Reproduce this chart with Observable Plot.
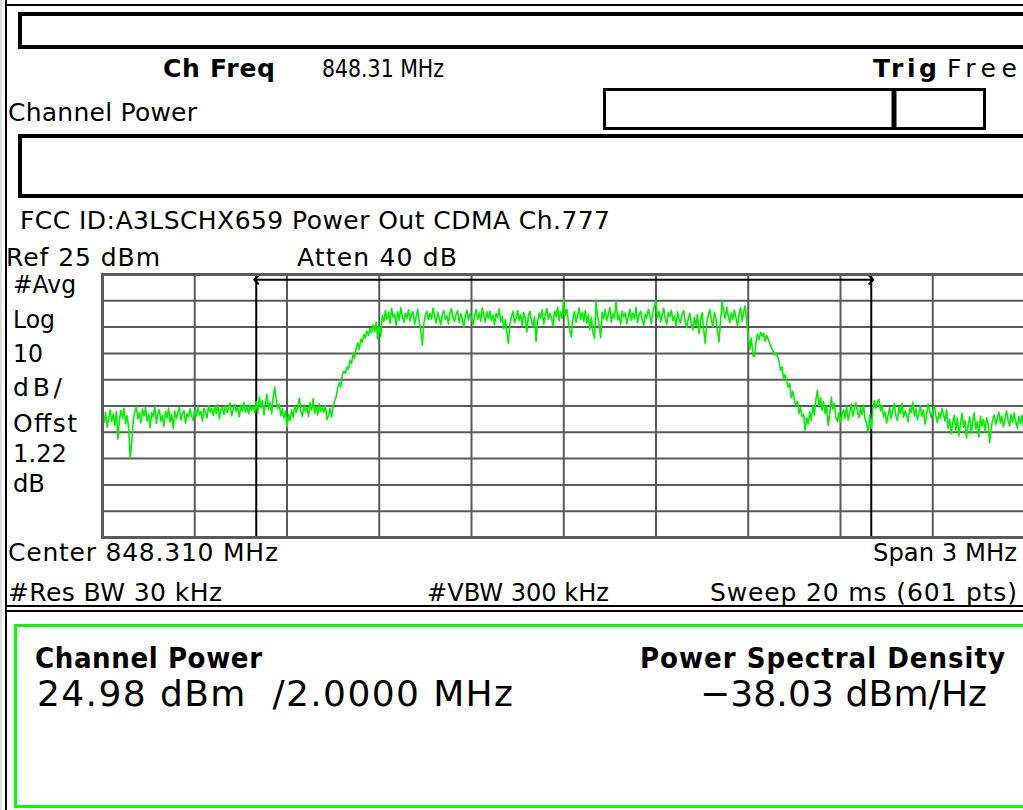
<!DOCTYPE html>
<html>
<head>
<meta charset="utf-8">
<script src="https://cdn.jsdelivr.net/npm/d3@7"></script>
<script src="https://cdn.jsdelivr.net/npm/@observablehq/plot@0.6"></script>
<style>
  html, body { margin: 0; padding: 0; background: #fff; overflow: hidden; }
  #screen { position: relative; width: 1023px; height: 810px; overflow: hidden; background: #fff; }
  #screen svg { position: absolute; left: 0; top: 0; max-width: none; }
  .t { font-family: "DejaVu Sans", sans-serif; fill: #000; }
  .c { font-family: "DejaVu Sans Condensed", "DejaVu Sans", sans-serif; font-stretch: condensed; }
</style>
</head>
<body>
<div id="screen"></div>
<script>
// ---- Instrument settings (as shown on screen) ----
const centerMHz = 848.31;
const spanMHz = 3;
const sweepPoints = 601;
const refLevelDbm = 25;
const dbPerDiv = 10;
const gridDivisions = 10;

// Grid tick positions (MHz and dBm)
const gridFreqs = [846.81, 847.11, 847.41, 847.71, 848.01, 848.31, 848.61, 848.91, 849.21, 849.51, 849.81];
const gridLevels = [25, 15, 5, -5, -15, -25, -35, -45, -55, -65, -75];
// Channel integration bandwidth edges (2 MHz)
const channelEdges = [847.31, 849.31];
const markerLevel = 23;

const traceLeftNoise = [
  -28.5,-31.2,-27.4,-33.0,-29.8,-26.5,-30.9,-28.0,-32.4,-27.1,-37.5,-30.2,-26.8,-29.6,-25.9,-31.8,-28.7,-33.5,-44.8,-39.0,
  -30.5,-27.2,-25.4,-29.9,-27.6,-31.4,-26.2,-28.8,-25.6,-30.7,-28.1,-33.2,-27.5,-29.0,-25.3,-31.6,-27.9,-26.4,-30.8,-28.5,
  -32.9,-27.0,-29.4,-25.8,-31.1,-28.3,-33.6,-26.9,-29.7,-27.4,-25.6,-30.3,-28.0,-26.7,-31.5,-27.8,-29.2,-26.1,-28.9,-30.5,
  -26.6,-29.0,-25.2,-28.4,-27.0,-30.8,-25.9,-27.7,-29.5,-24.8,-27.3,-26.0,-28.6,-25.1,-27.9,-24.5,-29.8,-26.3,-25.6,-28.2,
  -24.9,-27.5,-25.8,-23.9,-28.7,-26.2,-24.4,-27.0,-25.5,-29.1,-24.6,-26.8,-23.8,-27.4,-25.2,-28.0,-24.7,-26.5,-25.0,-27.6
];
const traceLeftShoulder = [
  -23.2,-27.8,-21.5,-25.6,-22.9,-28.4,-24.1,-20.6,-26.3,-23.5,-27.9,-21.8,-17.8,-22.4,-26.0,-24.3,-28.8,-26.1,-29.5,-27.0,
  -33.0,-28.2,-30.6,-26.4,-29.3,-24.9,-27.5,-25.2,-22.0,-26.8,-28.9,-24.6,-27.1,-25.5,-29.0,-23.8,-26.6,-22.3,-27.8,-25.1,
  -28.4,-24.2,-26.9,-25.7,-27.3,-24.8,-30.2,-28.6,-26.0,-29.1,-25.3,-23.0
];
const traceRise = [
  -21.5,-18.0,-16.2,-17.5,-13.0,-11.8,-12.5,-10.2,-11.0,-7.5,
  -8.8,-5.2,-6.8,-3.1,-1.0,-3.5,0.5,-0.8,2.2,0.9,
  3.5,1.8,4.6,2.9,5.8,3.2,6.9,0.5,5.2,1.5
];
const tracePlateau = [
  9.5,7.2,11.3,8.0,10.6,6.4,12.1,8.8,9.9,5.7,10.8,7.6,12.4,9.1,6.8,10.2,8.4,11.6,7.3,9.7,
  10.9,6.1,8.9,11.8,7.4,4.2,-1.8,6.5,9.6,11.0,7.8,10.3,8.1,12.2,9.0,6.6,10.7,8.5,5.9,9.8,
  11.4,7.9,9.3,6.2,10.5,12.0,8.6,7.1,9.9,11.2,6.8,10.1,8.2,4.9,9.4,11.5,7.7,10.0,8.8,6.0,
  9.2,11.7,8.0,10.4,7.2,12.3,9.5,6.9,10.8,8.3,11.1,7.5,9.6,5.8,10.2,8.7,11.9,7.0,9.1,4.3,
  7.8,3.0,-1.2,6.4,9.0,10.9,6.7,8.5,11.3,7.6,9.8,5.5,10.6,8.1,3.2,9.4,11.0,7.3,5.1,8.9,
  -0.5,7.0,10.3,8.4,11.6,6.2,9.5,12.1,7.9,10.2,8.6,5.4,11.0,9.0,12.6,7.4,10.7,8.3,15.8,9.6,
  11.8,7.1,3.5,1.3,8.8,10.9,6.9,9.4,12.3,8.0,10.5,7.2,11.4,6.5,9.8,4.0,8.7,2.8,0.7,14.8,
  9.2,6.0,1.0,10.6,8.3,11.7,7.5,9.9,12.4,6.8,10.1,8.4,14.9,7.7,9.6,5.9,11.2,8.8,10.4,6.3,
  9.0,11.9,7.6,10.3,8.2,12.5,6.7,9.5,11.1,7.9,5.6,10.0,8.5,11.8,9.3,6.4,10.7,13.2,15.0,8.6,
  10.9,7.0,9.7,12.1,8.1,6.2,10.5,8.9,11.4,7.4,9.2,5.3,10.8,8.0,6.6,9.9,11.3,7.1,4.8,8.4,
  10.2,6.0,3.9,8.7,5.5,9.8,2.6,7.2,10.4,4.1,-1.3,6.9,9.5,11.7,7.8,5.0,10.6,8.2,3.4,-0.6,
  7.5,14.8,11.0,8.3,12.6,9.1,6.7,10.4,7.9,11.5,8.6,5.4,9.7,12.3,7.2,10.8,13.1,6.9
];
const traceFall = [
  2.0,-3.5,0.8,-5.8,-6.2,-1.0,2.4,0.2,3.1,1.5,
  2.6,-0.4,1.8,0.3,-1.2,-2.8,-3.9,-5.6,-4.7,-6.2,
  -8.0,-11.5,-10.2,-14.6,-13.1,-15.8,-17.9,-16.5,-21.8,-19.4,
  -22.9,-24.5,-23.2,-27.8,-25.6,-29.0,-28.1
];
const traceRightNoise = [
  -34.2,-29.5,-31.8,-27.2,-30.5,-25.1,-28.4,-22.6,-19.0,-24.8,-21.9,-26.7,-23.4,-27.9,-25.0,-32.5,-28.3,-21.6,-26.2,-24.0,
  -29.4,-30.8,-27.5,-31.2,-28.0,-26.3,-29.7,-25.1,-30.4,-27.6,-24.2,-28.9,-26.0,-23.8,-27.3,-29.5,-25.7,-28.2,-24.6,-30.1,
  -31.8,-35.0,-28.6,-33.4,-26.5,-22.9
];
const traceRightFloor = [
  -25.8,-23.4,-22.5,-26.9,-24.7,-29.0,-27.2,-31.5,-28.4,-25.6,-29.8,-26.3,-24.1,-28.7,-30.6,-25.4,-27.9,-24.0,-29.3,-26.8,
  -28.5,-31.0,-25.9,-27.4,-23.5,-28.8,-26.1,-30.2,-27.7,-24.9,-29.0,-26.5,-31.9,-28.1,-24.3,-26.9,-29.4,-27.0,-25.2,-28.6,
  -31.3,-27.5,-29.8,-25.9,-28.2,-30.7,-26.4,-33.5,-30.1,-35.6,-31.2,-28.5,-34.3,-29.6,-36.4,-32.0,-27.8,-33.1,-30.5,-37.2,
  -32.4,-29.1,-35.5,-30.8,-27.6,-33.9,-31.0,-36.8,-28.9,-32.6,-30.2,-34.7,-29.4,-31.8,-38.9,-33.5,-30.0,-28.4,-32.1,-29.7,
  -27.3,-31.5,-28.8,-33.0,-29.9,-26.8,-30.4,-32.7,-28.2,-31.1,-27.6,-30.9,-33.4,-29.0,-31.7,-28.5,-32.8,-30.2
];

const traceDbm = [].concat(traceLeftNoise, traceLeftShoulder, traceRise, tracePlateau, traceFall, traceRightNoise, traceRightFloor);
const startMHz = centerMHz - spanMHz / 2;
const stepMHz = spanMHz / (sweepPoints - 1);
const trace = traceDbm.map((dbm, i) => ({freq: startMHz + i * stepMHz, dbm}));

// ---- Screen texts ----
const textChFreqLabel = "Ch Freq";
const textChFreqValue = "848.31 MHz";
const textTrigLabel = "Trig";
const textTrigValue = "Free";
const textMode = "Channel Power";
const textTitle = "FCC ID:A3LSCHX659 Power Out CDMA Ch.777";
const textRef = "Ref 25 dBm";
const textAtten = "Atten 40 dB";
const textLeftLabels = ["#Avg", "Log", "10", "dB/", "Offst", "1.22", "dB"];
const textCenter = "Center 848.310 MHz";
const textSpan = "Span 3 MHz";
const textRbw = "#Res BW 30 kHz";
const textVbw = "#VBW 300 kHz";
const textSweep = "Sweep 20 ms (601 pts)";
const textResultLabels = ["Channel Power", "Power Spectral Density"];
const textResultValues = ["24.98 dBm  /2.0000 MHz", "\u221238.03 dBm/Hz"];

// ---- The graticule and trace (Observable Plot) ----
const gridColor = "#5a5a5a";
const mid = (channelEdges[0] + channelEdges[1]) / 2;
const plot = Plot.plot({
  width: 1023,
  height: 810,
  marginLeft: 102,
  marginRight: -1.5,
  marginTop: 274,
  marginBottom: 273,
  x: {domain: [startMHz, startMHz + spanMHz], axis: null},
  y: {domain: [refLevelDbm - dbPerDiv * gridDivisions, refLevelDbm], axis: null},
  style: {background: "transparent", maxWidth: "none", overflow: "hidden"},
  marks: [
    Plot.ruleX(gridFreqs, {stroke: gridColor, strokeWidth: 2}),
    Plot.ruleY(gridLevels, {stroke: gridColor, strokeWidth: 2}),
    Plot.ruleX(channelEdges, {stroke: "#000", strokeWidth: 2}),
    Plot.link([{a: mid, b: channelEdges[0]}, {a: mid, b: channelEdges[1]}], {
      x1: "a", x2: "b", y1: () => markerLevel, y2: () => markerLevel,
      stroke: "#000", strokeWidth: 2, markerEnd: "arrow"
    }),
    Plot.line(trace, {x: "freq", y: "dbm", stroke: "#00f000", strokeWidth: 1.6, curve: "linear"}),
    Plot.frame({stroke: gridColor, strokeWidth: 3})
  ]
});

const screen = document.getElementById("screen");
screen.appendChild(plot);

// ---- Instrument screen furniture and annotation text ----
const ov = d3.select(screen).append("svg")
  .attr("width", 1023).attr("height", 810);

function rect(x, y, w, h, stroke, sw) {
  ov.append("rect").attr("x", x).attr("y", y).attr("width", w).attr("height", h)
    .attr("fill", "none").attr("stroke", stroke).attr("stroke-width", sw);
}
function line(x1, y1, x2, y2, stroke, sw) {
  ov.append("line").attr("x1", x1).attr("y1", y1).attr("x2", x2).attr("y2", y2)
    .attr("stroke", stroke).attr("stroke-width", sw);
}
function text(str, x, y, opts = {}) {
  const t = ov.append("text").attr("class", opts.condensed ? "t c" : "t").attr("x", x).attr("y", y)
    .attr("font-size", opts.size || 25)
    .attr("font-weight", opts.bold ? "bold" : "normal")
    .attr("xml:space", "preserve")
    .text(str);
  if (opts.w) {
    const natural = t.node().getComputedTextLength();
    t.attr("textLength", opts.w)
     .attr("lengthAdjust", natural > opts.w ? "spacingAndGlyphs" : "spacing");
  }
  return t;
}

// outer frame
line(6, 0, 6, 810, "#000", 2);
line(1, 0, 1, 810, "#bbb", 1);
line(6, 5, 1023, 5, "#000", 2);
// top status box
rect(20, 14, 1020, 33, "#000", 4);
// progress box
rect(604.5, 89.5, 380, 39, "#000", 3);
line(894, 89, 894, 129, "#000", 5);
// message box
rect(20, 136, 1020, 60, "#000", 4);
// separator between graph and results
line(6, 606, 1023, 606, "#000", 2);
line(6, 611, 1023, 611, "#000", 2);
// results box
rect(15.5, 625.5, 1020, 181, "#00ff00", 3);

// texts
text(textChFreqLabel, 163, 77, {bold: true, w: 112});
text(textChFreqValue, 322, 77, {w: 122});
text(textTrigLabel, 873, 77, {bold: true, w: 64});
text(textTrigValue, 947, 77, {w: 70});
text(textMode, 8, 121, {w: 189});
text(textTitle, 20, 229, {w: 590});
text(textRef, 6, 266, {w: 154});
text(textAtten, 297, 266, {w: 160});
const leftBaselines = [293, 328, 362, 396, 432, 462, 492];
const leftWidths = [63, 42, 30, 49, 64, 54, 32];
textLeftLabels.forEach((s, i) => text(s, 13, leftBaselines[i], {w: leftWidths[i]}));
text(textCenter, 8, 561, {w: 270});
text(textSpan, 873, 561, {w: 144});
text(textRbw, 8, 601, {w: 214});
text(textVbw, 427, 601, {w: 182});
text(textSweep, 710, 601, {w: 307});
text(textResultLabels[0], 35, 668, {bold: true, condensed: true, size: 29, w: 227});
text(textResultLabels[1], 640, 668, {bold: true, condensed: true, size: 29, w: 365});
text(textResultValues[0], 37, 706, {size: 36, w: 476});
text(textResultValues[1], 700, 706, {size: 36, w: 287});
</script>
</body>
</html>
